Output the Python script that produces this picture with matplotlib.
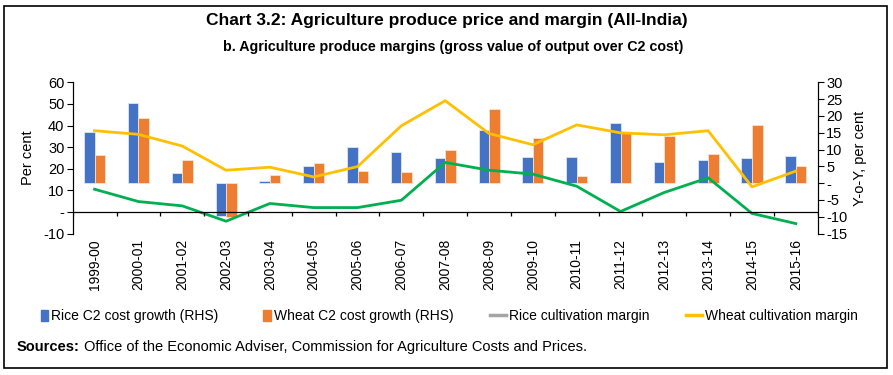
import matplotlib
matplotlib.use("Agg")
import matplotlib.pyplot as plt
from matplotlib.lines import Line2D
from matplotlib.patches import Rectangle
import numpy as np

years = ["1999-00", "2000-01", "2001-02", "2002-03", "2003-04", "2004-05",
         "2005-06", "2006-07", "2007-08", "2008-09", "2009-10", "2010-11",
         "2011-12", "2012-13", "2013-14", "2014-15", "2015-16"]

# RHS: y-o-y growth in C2 cost
rice_c2_growth = [15.2, 23.8, 3.0, -9.7, 0.7, 5.0, 10.6, 9.3, 7.4,
                  15.9, 7.7, 7.7, 17.9, 6.4, 7.0, 7.4, 8.1]
wheat_c2_growth = [8.3, 19.4, 7.0, -10.0, 2.3, 5.9, 3.7, 3.4, 10.0,
                   22.2, 13.5, 2.0, 15.3, 13.9, 8.6, 17.2, 5.1]

# LHS: cultivation margins
rice_margin = [10.5, 4.8, 2.8, -4.3, 3.9, 2.0, 2.0, 5.4, 22.9,
               19.3, 17.5, 11.9, 0.2, 9.0, 15.8, -0.7, -5.4]
wheat_margin = [37.6, 35.9, 30.5, 19.3, 20.7, 16.2, 21.0, 39.9, 51.5,
                36.3, 31.1, 40.3, 36.6, 35.7, 37.6, 11.6, 18.9]

left_ticks = [-10, 0, 10, 20, 30, 40, 50, 60]
left_labels = ["-10", "-", "10", "20", "30", "40", "50", "60"]
right_ticks = [-15, -10, -5, 0, 5, 10, 15, 20, 25, 30]
right_labels = ["-15", "-10", "-5", "-", "5", "10", "15", "20", "25", "30"]

BLUE = "#4472C4"
ORANGE = "#ED7D31"
YELLOW = "#FFC000"
GREEN = "#00B050"
GREY = "#A5A5A5"

plt.rcParams["font.family"] = ["Liberation Sans", "DejaVu Sans"]

fig = plt.figure(figsize=(8.93, 3.75), dpi=100)
ax = fig.add_axes([0.0814, 0.3773, 0.8343, 0.4032])
ax2 = ax.twinx()

x = np.arange(len(years))
w = 0.24
ax2.bar(x - w / 2, rice_c2_growth, w, color=BLUE, edgecolor="#dde6f5", linewidth=0.6)
ax2.bar(x + w / 2, wheat_c2_growth, w, color=ORANGE, edgecolor="#fbe0cf", linewidth=0.6)

ax.plot(x, wheat_margin, color=YELLOW, lw=2)
ax.plot(x, rice_margin, color=GREEN, lw=2)
ax.axhline(0, color="black", lw=0.9)
ax.vlines(np.arange(len(years) + 1) - 0.5, -1.8, 0, color="black", lw=0.9)

ax.set_zorder(ax2.get_zorder() + 1)
ax.patch.set_visible(False)

ax.set_xlim(-0.5, len(years) - 0.5)
ax.set_ylim(-10, 60)
ax2.set_ylim(-15, 30)
ax.set_yticks(left_ticks)
ax.set_yticklabels(left_labels)
ax2.set_yticks(right_ticks)
ax2.set_yticklabels(right_labels)
ax.set_xticks(x)
ax.set_xticklabels(years, rotation=90)

for a in (ax, ax2):
    a.spines["top"].set_visible(False)
    a.spines["bottom"].set_visible(False)
    a.tick_params(axis="y", labelsize=10.5, length=4, width=0.8, pad=2)
ax.tick_params(axis="x", length=0, labelsize=10, pad=4)
ax.set_ylabel("Per cent", fontsize=10.5, labelpad=6)
ax2.set_ylabel("Y-o-Y, per cent", fontsize=10.5, labelpad=4)

fig.text(0.5, 0.945, "Chart 3.2: Agriculture produce price and margin (All-India)",
         ha="center", va="center", fontsize=12.5, fontweight="bold")
fig.text(0.508, 0.875, "b. Agriculture produce margins (gross value of output over C2 cost)",
         ha="center", va="center", fontsize=10.3, fontweight="bold")

handles = [
    Rectangle((0, 0), 1, 1, color=BLUE),
    Rectangle((0, 0), 1, 1, color=ORANGE),
    Line2D([], [], color=GREY, lw=2.5),
    Line2D([], [], color=YELLOW, lw=2.5),
]
labels = ["Rice C2 cost growth (RHS)", "Wheat C2 cost growth (RHS)",
          "Rice cultivation margin", "Wheat cultivation margin"]
leg = fig.legend(handles, labels, loc="center", bbox_to_anchor=(0.498, 0.157), ncol=4,
                 frameon=False, handlelength=1.2, handletextpad=0.2, handleheight=0.9,
                 columnspacing=2.6, prop={"size": 10})
# narrow square markers for the bar series
for patch in leg.get_patches():
    patch.set_width(patch.get_width() * 0.45)
    patch.set_x(patch.get_x() + patch.get_width() * 1.2)

fig.text(0.019, 0.075, "Sources:", fontsize=10.5, fontweight="bold", va="center")
fig.text(0.094, 0.075, "Office of the Economic Adviser, Commission for Agriculture Costs and Prices.",
         fontsize=10.5, va="center")

fig.add_artist(Rectangle((0.005, 0.02), 0.988, 0.965, transform=fig.transFigure,
                         fill=False, edgecolor="black", lw=1.2))

fig.savefig("out.png", dpi=100)
